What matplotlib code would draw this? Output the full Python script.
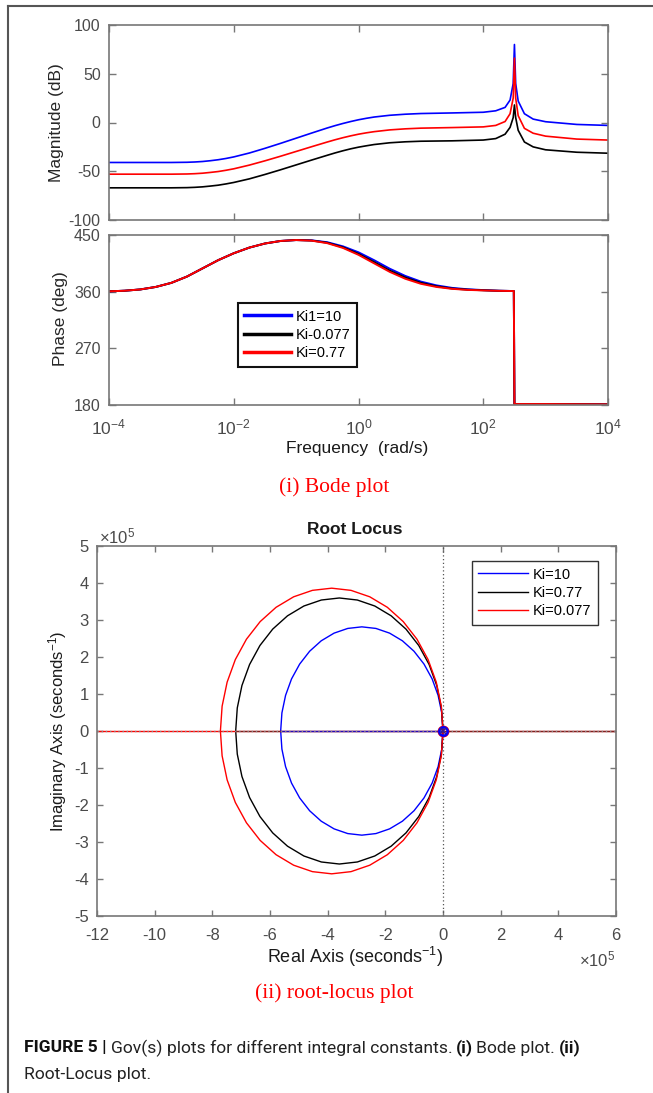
import numpy as np
import matplotlib
matplotlib.use("Agg")
import matplotlib.pyplot as plt
from matplotlib.lines import Line2D

plt.rcParams["font.family"] = ["Liberation Sans", "DejaVu Sans"]
plt.rcParams["mathtext.default"] = "regular"
plt.rcParams["axes.unicode_minus"] = False

W, H = 653, 1093

# Bode magnitude, log10(frequency) grid
mag_logw = [-4, -3.5, -3, -2.75, -2.625, -2.5, -2.375, -2.25, -2.125, -2, -1.75,
            -1.5, -1.25, -1, -0.75, -0.5, -0.375, -0.25, -0.125, 0, 0.125, 0.25,
            0.5, 0.75, 1, 1.5, 2, 2.2, 2.35, 2.43, 2.48, 2.5, 2.52, 2.56, 2.66,
            2.8, 3, 3.5, 4]
mag_ki10 = [-41, -41, -41, -40.8, -40.5, -40, -39.2, -38.2, -36.9, -35.3, -31.3,
            -26.5, -21.4, -16.1, -10.8, -5.6, -3.2, -1, 1, 2.8, 4.3, 5.6,
            7.4, 8.5, 9.2, 9.8, 10.5, 12, 15.5, 23, 40, 80, 40, 22, 9,
            3.5, 0.8, -2, -3]
mag_ki0077 = [-67, -67, -67, -66.8, -66.5, -66, -65.2, -64.3, -63, -61.5, -57.8,
              -53.3, -48.5, -43.5, -38.5, -33.6, -31.2, -29, -27, -25.3, -23.9, -22.6,
              -20.8, -19.8, -19.2, -18.8, -18, -16.5, -12, -5, 5, 18, 5, -8, -20,
              -25, -28, -30.5, -31.5]
mag_ki077 = [-53, -53, -53, -52.8, -52.5, -52, -51.2, -50.3, -49, -47.5, -43.7,
             -39.3, -34.6, -29.7, -24.8, -20, -17.7, -15.6, -13.7, -12, -10.6, -9.4,
             -7.6, -6.5, -5.8, -5.2, -4.5, -3, 1, 9, 25, 66, 25, 7, -6,
             -11, -14, -17, -18]

# Bode phase
ph_logw = [-4, -3.75, -3.5, -3.25, -3, -2.75, -2.5, -2.25, -2, -1.75, -1.5, -1.25,
           -1, -0.75, -0.5, -0.25, 0, 0.25, 0.5, 0.75, 1, 1.25, 1.5, 1.75, 2,
           2.25, 2.49, 2.5, 3, 4]
ph_ki10 = [360.5, 361.5, 363.5, 367.5, 374, 384, 397, 410, 421, 430, 436.5, 440.5,
           442, 441.5, 438.5, 432, 422.5, 410, 396.5, 385, 376, 370, 366, 363.8, 362.5,
           361.5, 361, 181.5, 181.5, 181]
ph_ki0077 = [360.5, 361.5, 363.5, 367.5, 374, 384, 397, 410, 421, 430, 436.5, 440.5,
             442, 441.2, 437.7, 430.5, 420, 407, 393.5, 382.5, 374, 368.5, 365, 363.2, 362.2,
             361.4, 361, 181.5, 181.5, 181]
ph_ki077 = [360.5, 361.5, 363.5, 367.5, 374, 384, 397, 410, 421, 430, 436.5, 440.5,
            442, 441, 437, 429.5, 418.5, 405, 391.5, 380.5, 372.5, 367.5, 364.5, 362.8, 362,
            361.3, 361, 181.5, 181.5, 181]

bode_labels = ["Ki1=10", "Ki-0.077", "Ki=0.77"]

# root locus, upper half of each branch (units of 1e5 s^-1)
rl_re_ki10 = [0, -0.043, -0.170, -0.377, -0.659, -1.006, -1.408, -1.852, -2.326, -2.815,
              -3.304, -3.778, -4.223, -4.625, -4.971, -5.253, -5.460, -5.587, -5.63]
rl_im_ki10 = [0, 0.489, 0.963, 1.408, 1.809, 2.156, 2.438, 2.645, 2.772, 2.815,
              2.772, 2.645, 2.438, 2.156, 1.809, 1.408, 0.963, 0.489, 0]
rl_re_ki077 = [0, -0.055, -0.217, -0.482, -0.841, -1.284, -1.798, -2.366, -2.971, -3.595,
               -4.219, -4.825, -5.393, -5.906, -6.349, -6.708, -6.973, -7.135, -7.19]
rl_im_ki077 = [0, 0.624, 1.230, 1.798, 2.311, 2.754, 3.113, 3.378, 3.540, 3.595,
               3.540, 3.378, 3.113, 2.754, 2.311, 1.798, 1.230, 0.624, 0]
rl_re_ki0077 = [0, -0.059, -0.233, -0.517, -0.903, -1.379, -1.93, -2.540, -3.190, -3.86,
                -4.530, -5.180, -5.79, -6.341, -6.817, -7.203, -7.487, -7.661, -7.72]
rl_im_ki0077 = [0, 0.670, 1.320, 1.93, 2.481, 2.957, 3.343, 3.627, 3.801, 3.86,
                3.801, 3.627, 3.343, 2.957, 2.481, 1.93, 1.320, 0.670, 0]
rl_labels = ["Ki=10", "Ki=0.77", "Ki=0.077"]

BLUE, BLACK, RED = "#0000ff", "#000000", "#ff0000"
SPINE = "#777777"
TICKC = "#4a4a4a"


def px_axes(l, t, r, b):
    return fig.add_axes([l / W, 1 - b / H, (r - l) / W, (b - t) / H])


def style(ax, fs=11.5):
    for s in ax.spines.values():
        s.set_color(SPINE)
        s.set_linewidth(1.2)
    ax.tick_params(direction="in", top=True, right=True, length=5, width=1,
                   color=SPINE, labelcolor=TICKC, labelsize=fs, pad=6)
    ax.tick_params(which="minor", length=0)


fig = plt.figure(figsize=(W / 100, H / 100), dpi=100)

# frame lines of the figure panel
fig.add_artist(Line2D([8 / W, 8 / W], [0, 1 - 6 / H], color="#555555", lw=1.5))
fig.add_artist(Line2D([8 / W, 1], [1 - 6 / H, 1 - 6 / H], color="#555555", lw=1.5))

# ---- Bode magnitude
ax1 = px_axes(109, 25, 608, 220)
w_mag = 10.0 ** np.array(mag_logw)
ax1.semilogx(w_mag, mag_ki10, color=BLUE, lw=1.2)
ax1.semilogx(w_mag, mag_ki0077, color=BLACK, lw=1.2)
ax1.semilogx(w_mag, mag_ki077, color=RED, lw=1.2)
ax1.set_xlim(1e-4, 1e4)
ax1.set_ylim(-100, 100)
ax1.set_xticks([1e-4, 1e-2, 1, 1e2, 1e4])
ax1.set_xticklabels([])
ax1.set_yticks([-100, -50, 0, 50, 100])
style(ax1)

# ---- Bode phase
ax2 = px_axes(109, 235, 608, 405)
w_ph = 10.0 ** np.array(ph_logw)
ax2.semilogx(w_ph, ph_ki10, color=BLUE, lw=1.4, label=bode_labels[0])
ax2.semilogx(w_ph, ph_ki0077, color=BLACK, lw=1.4, label=bode_labels[1])
ax2.semilogx(w_ph, ph_ki077, color=RED, lw=1.4, label=bode_labels[2])
ax2.set_xlim(1e-4, 1e4)
ax2.set_ylim(180, 450)
ax2.set_xticks([1e-4, 1e-2, 1, 1e2, 1e4])
ax2.set_xticklabels(["$10^{-4}$", "$10^{-2}$", "$10^{0}$", "$10^{2}$", "$10^{4}$"])
ax2.set_yticks([180, 270, 360, 450])
style(ax2)
ax2.tick_params(axis="x", pad=9, labelsize=12.5)
leg = ax2.legend(loc="upper left", bbox_to_anchor=(0.258, 0.6), borderaxespad=0,
                 fontsize=10.5, handlelength=3.2, handletextpad=0.35,
                 labelspacing=0.3, borderpad=0.45, fancybox=False, framealpha=1)
leg.get_frame().set_edgecolor("#111111")
leg.get_frame().set_linewidth(1.5)
for h in leg.legend_handles:
    h.set_linewidth(2.5)

fig.text(57 / W, 1 - 123 / H, "Magnitude (dB)", rotation=90, ha="center",
         va="center", fontsize=12.5, color="#262626")
fig.text(61 / W, 1 - 319 / H, "Phase (deg)", rotation=90, ha="center",
         va="center", fontsize=12.5, color="#262626")
fig.text(357 / W, 1 - 449 / H, "Frequency  (rad/s)", ha="center", va="center",
         fontsize=12.5, color="#1a1a1a")
fig.text(334 / W, 1 - 487 / H, "(i) Bode plot", ha="center", va="center",
         fontsize=15.5, color="#ff0000", family="Liberation Serif")

# ---- Root locus
ax3 = px_axes(97, 546, 616, 916)
for re, im, c, lab in [(rl_re_ki10, rl_im_ki10, BLUE, rl_labels[0]),
                       (rl_re_ki077, rl_im_ki077, BLACK, rl_labels[1]),
                       (rl_re_ki0077, rl_im_ki0077, RED, rl_labels[2])]:
    re = np.array(re)
    im = np.array(im)
    ax3.plot(np.concatenate([re, re[::-1]]), np.concatenate([im, -im[::-1]]),
             color=c, lw=1.0, label=lab)
ax3.axhline(0, color=RED, lw=1.0)
ax3.plot([min(rl_re_ki077), 6], [0, 0], color="#333333", lw=1.0, alpha=0.6)
ax3.plot([min(rl_re_ki10), 0], [0, 0], color=BLUE, lw=1.0, alpha=0.7)
ax3.axhline(0, color="#888888", lw=1.0, ls=(0, (1, 2)))
ax3.axvline(0, color="#555555", lw=0.9, ls=(0, (1, 2)))
ax3.plot([0], [0], "o", ms=7, mfc="none", mec=RED, mew=1.5)
ax3.plot([0], [0], "o", ms=6, mfc="none", mec=BLUE, mew=1.8)
ax3.plot([0], [0], "x", ms=5, mec="#3a1a8a", mew=1.2)
ax3.set_xlim(-12, 6)
ax3.set_ylim(-5, 5)
ax3.set_xticks(np.arange(-12, 7, 2))
ax3.set_yticks(np.arange(-5, 6, 1))
style(ax3, fs=12)
ax3.tick_params(length=4)
ax3.tick_params(axis="x", pad=9)
leg3 = ax3.legend(loc="upper left", bbox_to_anchor=(0.722, 0.9595), borderaxespad=0,
                  fontsize=10.5, handlelength=3.4, handletextpad=0.35,
                  labelspacing=0.3, borderpad=0.45, fancybox=False, framealpha=1)
leg3.get_frame().set_edgecolor("#333333")
leg3.get_frame().set_linewidth(1.0)

fig.text(355 / W, 1 - 529 / H, "Root Locus", ha="center", va="center",
         fontsize=12.5, fontweight="bold", color="#1a1a1a")
fig.text(99 / W, 1 - 536 / H, r"$\times10^{5}$", ha="left", va="center",
         fontsize=12, color=TICKC)
fig.text(615 / W, 1 - 959 / H, r"$\times10^{5}$", ha="right", va="center",
         fontsize=12, color=TICKC)
fig.text(58 / W, 1 - 731 / H, "Imaginary Axis (seconds$^{-1}$)", rotation=90,
         ha="center", va="center", fontsize=12, color="#1a1a1a")
fig.text(355 / W, 1 - 957 / H, "Real Axis (seconds$^{-1}$)", ha="center",
         va="center", fontsize=13, color="#1a1a1a")
fig.text(334 / W, 1 - 993 / H, "(ii) root-locus plot", ha="center", va="center",
         fontsize=15.5, color="#ff0000", family="Liberation Serif")

# ---- caption
cap_fs = 12.6
cy = 1 - 1048 / H
t1 = fig.text(24 / W, cy, "FIGURE 5 |", ha="left", va="center",
              fontsize=cap_fs, fontweight="bold", family="Roboto", color="#111111")
fig.canvas.draw()
bb = t1.get_window_extent()
t2 = fig.text((bb.x1 + 4) / W, cy,
              "Gov(s) plots for different integral constants.", ha="left", va="center",
              fontsize=cap_fs, family="Roboto", color="#222222")
fig.canvas.draw()
x = t2.get_window_extent().x1 + 4
t4 = fig.text(x / W, cy, "(i)", ha="left", va="center",
              fontsize=cap_fs, fontweight="bold", family="Roboto", color="#111111")
fig.canvas.draw()
x = t4.get_window_extent().x1 + 3
t5 = fig.text(x / W, cy, "Bode plot.", ha="left", va="center",
              fontsize=cap_fs, family="Roboto", color="#222222")
fig.canvas.draw()
x = t5.get_window_extent().x1 + 4
fig.text(x / W, cy, "(ii)", ha="left", va="center",
         fontsize=cap_fs, fontweight="bold", family="Roboto", color="#111111")
fig.text(24 / W, 1 - 1075 / H, "Root-Locus plot.", ha="left", va="center",
         fontsize=cap_fs, family="Roboto", color="#222222")

fig.savefig("out.png", dpi=100)
